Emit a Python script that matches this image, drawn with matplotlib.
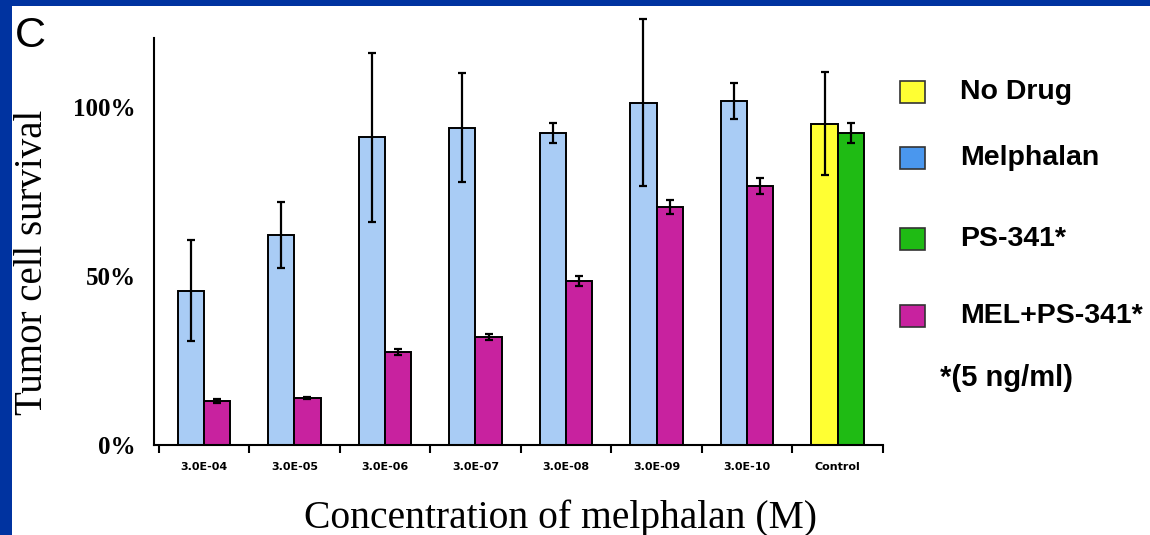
import numpy as np
import matplotlib
matplotlib.use("Agg")
from matplotlib import pyplot as plt
from matplotlib.patches import Rectangle

# data (percent survival)
categories = ["3.0E-04", "3.0E-05", "3.0E-06", "3.0E-07", "3.0E-08", "3.0E-09", "3.0E-10", "Control"]
melphalan = [45.6, 62.1, 91.1, 93.8, 92.3, 101.2, 101.8]
melphalan_err = [14.9, 9.8, 25.0, 16.1, 3.1, 24.7, 5.3]
mel_ps341 = [13.0, 13.9, 27.5, 32.0, 48.5, 70.4, 76.6]
mel_ps341_err = [0.5, 0.4, 0.8, 0.8, 1.5, 2.2, 2.4]
no_drug = [95.0]
no_drug_err = [15.2]
ps341 = [92.3]
ps341_err = [3.0]

legend_labels = ["No Drug", "Melphalan", "PS-341*", "MEL+PS-341*"]

BLUE_BAR = "#A9CCF5"
BLUE_KEY = "#4A97EE"
MAGENTA = "#C8229F"
YELLOW = "#FFFF33"
GREEN = "#1FBB14"
FRAME = "#0033A0"

W, H = 1150, 535
fig = plt.figure(figsize=(W / 100, H / 100), dpi=100, facecolor=FRAME)
fig.patches.append(Rectangle((12 / W, 0), 1, 529 / H, transform=fig.transFigure,
                             facecolor="white", edgecolor="none", zorder=-10))

ax = fig.add_axes([154 / W, 1 - 445 / H, (883 - 154) / W, (445 - 38) / H])
ax.set_facecolor("white")

bw = 0.29
x = np.arange(len(melphalan))
ekw = dict(fmt="none", ecolor="black", elinewidth=1.6, capsize=3, capthick=1.6, zorder=5)

ax.bar(x - bw / 2, melphalan, bw, color=BLUE_BAR, edgecolor="black", linewidth=1.4)
ax.bar(x + bw / 2, mel_ps341, bw, color=MAGENTA, edgecolor="black", linewidth=1.4)
errs = [ax.errorbar(x - bw / 2, melphalan, yerr=melphalan_err, **ekw),
        ax.errorbar(x + bw / 2, mel_ps341, yerr=mel_ps341_err, **ekw)]

xc = len(categories) - 1
ax.bar([xc - bw / 2], no_drug, bw, color=YELLOW, edgecolor="black", linewidth=1.4)
ax.bar([xc + bw / 2], ps341, bw, color=GREEN, edgecolor="black", linewidth=1.4)
errs.append(ax.errorbar([xc - bw / 2], no_drug, yerr=no_drug_err, **ekw))
errs.append(ax.errorbar([xc + bw / 2], ps341, yerr=ps341_err, **ekw))
# the big 3.0E-09 bar pokes above the axis top, like in the original
for eb in errs:
    for art in eb.lines[1] + eb.lines[2]:
        art.set_clip_on(False)

ax.set_xlim(-0.55, len(categories) - 0.5)
ax.set_ylim(0, 120.4)

for s in ["top", "right"]:
    ax.spines[s].set_visible(False)
ax.spines["left"].set_linewidth(1.5)
ax.spines["bottom"].set_linewidth(1.5)

# category boundaries get tick marks, labels sit at the centres
ax.set_xticks(np.arange(-0.5, len(categories)), labels=[""] * (len(categories) + 1))
ax.set_xticks(np.arange(len(categories)), labels=categories, minor=True)
ax.tick_params(axis="x", which="major", direction="out", length=6, width=1.5)
ax.tick_params(axis="x", which="minor", length=0, pad=12)
for t in ax.get_xticklabels(minor=True):
    t.set_fontfamily("DejaVu Sans")
    t.set_fontweight("bold")
    t.set_fontsize(8)

ax.set_yticks([0, 50, 100], labels=["0%", "50%", "100%"])
ax.tick_params(axis="y", length=0, pad=13)
for t in ax.get_yticklabels():
    t.set_fontfamily("Liberation Serif")
    t.set_fontweight("bold")
    t.set_fontsize(18)

fig.text(560 / W, 1 - 518 / H, "Concentration of melphalan (M)", ha="center", va="center",
         family="Liberation Serif", fontsize=28.5)
fig.text(33 / W, 1 - 262 / H, "Tumor cell survival", ha="center", va="center", rotation=90,
         family="Liberation Serif", fontsize=28)
fig.text(15 / W, 1 - 36 / H, "C", ha="left", va="center", family="Liberation Sans", fontsize=31)

# hand-drawn key on the right
key_colors = [YELLOW, BLUE_KEY, GREEN, MAGENTA]
key_y = [92, 158, 239, 316]
for lab, col, yy in zip(legend_labels, key_colors, key_y):
    fig.patches.append(Rectangle((900 / W, 1 - (yy + 11) / H), 25 / W, 22 / H,
                                 transform=fig.transFigure, facecolor=col,
                                 edgecolor="#333333", linewidth=1.2))
    fig.text(960 / W, 1 - yy / H, lab, ha="left", va="center",
             family="Liberation Sans", fontweight="bold", fontsize=20.5)
fig.text(940 / W, 1 - 378 / H, "*(5 ng/ml)", ha="left", va="center",
         family="Liberation Sans", fontweight="bold", fontsize=21)

fig.savefig("out.png", dpi=100, facecolor=FRAME)
